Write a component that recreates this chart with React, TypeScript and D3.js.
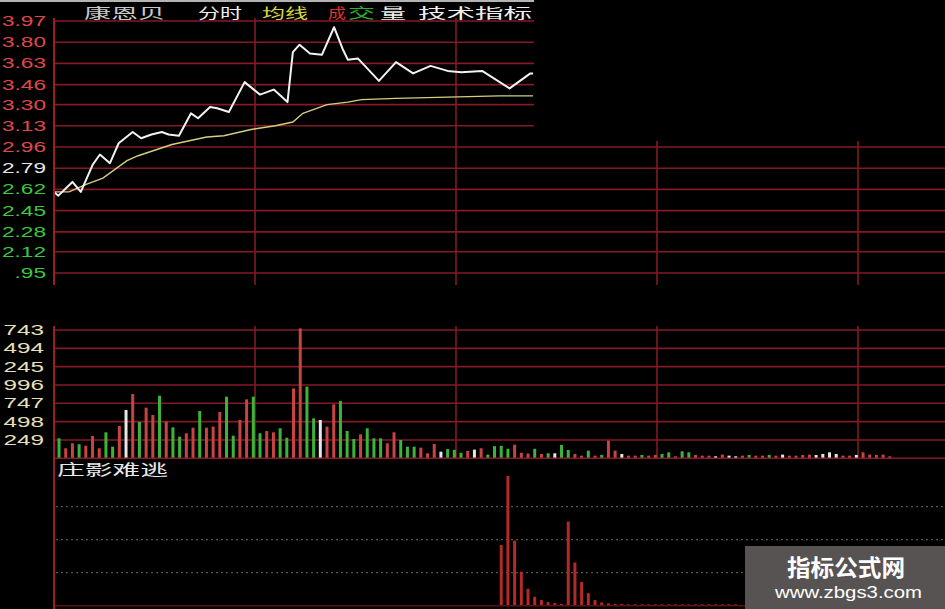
import * as d3 from 'd3';

// price axis (left labels are cut by the window edge in the original)
const priceTicks = [13.97, 13.8, 13.63, 13.46, 13.3, 13.13, 12.96, 12.79, 12.62, 12.45, 12.28, 12.12, 11.95];
const priceTickLabels = ['3.97', '3.80', '3.63', '3.46', '3.30', '3.13', '2.96', '2.79', '2.62', '2.45', '2.28', '2.12', '.95'];
const volumeTicks = [1743, 1494, 1245, 996, 747, 498, 249];
const volumeTickLabels = ['743', '494', '245', '996', '747', '498', '249'];
const hourMarks = [60, 120, 180, 240];

// minute line (minute, price) turning points
const priceMinutes = [0, 1.3, 5.5, 8, 11.6, 13.7, 16.7, 19.3, 23.5, 26, 29.1, 32.2, 34.2, 37.3, 40.9, 43, 46.6, 48.7, 52.2, 56.9, 61.5, 65.6, 69.7, 71.3, 73.3, 76.4, 80, 83.6, 86.1, 87.7, 90.7, 97, 102.1, 107.2, 112.4, 117.5, 121.6, 127.8, 136, 142.2, 143];
const prices = [12.6, 12.57, 12.68, 12.6, 12.82, 12.9, 12.83, 12.99, 13.08, 13.03, 13.06, 13.08, 13.06, 13.05, 13.23, 13.19, 13.28, 13.27, 13.24, 13.48, 13.38, 13.42, 13.32, 13.72, 13.78, 13.71, 13.7, 13.92, 13.75, 13.66, 13.67, 13.49, 13.64, 13.55, 13.61, 13.57, 13.56, 13.57, 13.43, 13.55, 13.55];

// average line
const avgMinutes = [0, 4.5, 9.6, 14.6, 21.8, 25.1, 35.2, 45.6, 50.7, 58.8, 66.1, 71.3, 74.3, 81.5, 87.7, 91.8, 102.1, 117.5, 132.8, 143];
const avgPrices = [12.6, 12.6, 12.66, 12.71, 12.85, 12.89, 12.98, 13.04, 13.05, 13.1, 13.13, 13.16, 13.23, 13.3, 13.32, 13.34, 13.35, 13.36, 13.37, 13.37];

// volume per 2-minute bar, with its colour (r up, g down, w flat)
const volumes = [
  272, 136, 204, 190, 171, 303, 136, 353, 158, 439, 656, 873, 493, 688, 588, 850, 498, 421, 294, 340,
  416, 643, 416, 430, 629, 837, 307, 520, 801, 837, 340, 371, 353, 408, 280, 949, 1765, 973, 543, 520,
  430, 733, 778, 371, 262, 326, 408, 272, 272, 204, 353, 249, 158, 158, 145, 68, 195, 90, 125, 115,
  75, 100, 118, 136, 50, 165, 170, 129, 185, 75, 65, 129, 59, 68, 68, 181, 113, 59, 36, 104,
  36, 45, 240, 104, 59, 36, 36, 45, 36, 45, 59, 81, 27, 95, 81, 45, 36, 36, 27, 50,
  36, 27, 36, 45, 36, 36, 45, 36, 50, 36, 36, 45, 50, 45, 59, 81, 59, 36, 36, 45,
  81, 50, 45, 50, 27,
];
const volumeDirs = [
  'g', 'r', 'r', 'g', 'r', 'r', 'r', 'g', 'g', 'r', 'w', 'r', 'g', 'r', 'r', 'g', 'r', 'g', 'g', 'r',
  'r', 'g', 'r', 'r', 'r', 'g', 'g', 'r', 'r', 'g', 'g', 'r', 'r', 'g', 'g', 'r', 'r', 'g', 'g', 'w',
  'r', 'r', 'g', 'g', 'g', 'r', 'g', 'g', 'g', 'r', 'r', 'g', 'g', 'g', 'r', 'r', 'r', 'w', 'g', 'g',
  'g', 'r', 'w', 'r', 'g', 'g', 'g', 'g', 'r', 'r', 'r', 'g', 'r', 'g', 'w', 'g', 'g', 'r', 'r', 'g',
  'r', 'g', 'r', 'r', 'w', 'r', 'r', 'g', 'r', 'r', 'g', 'g', 'r', 'g', 'g', 'r', 'r', 'r', 'w', 'r',
  'w', 'w', 'r', 'g', 'r', 'r', 'g', 'r', 'w', 'r', 'r', 'r', 'r', 'w', 'w', 'w', 'w', 'r', 'r', 'w',
  'r', 'r', 'r', 'r', 'r',
];

// 庄影难逃 indicator, starting at bar 66
const signalFirstBar = 66;
const signals = [
  1.84, 3.93, 1.97, 1.03, 0.51, 0.27, 0.17, 0.11, 0.08, 0.05, 2.55, 1.31, 0.72, 0.38, 0.17, 0.1, 0.07, 0.05,
  0.05, 0.04, 0.04, 0.04, 0.04, 0.04, 0.04, 0.04, 0.04, 0.04, 0.04, 0.04, 0.04, 0.04, 0.04, 0.04, 0.04, 0.04,
];

const W = 945;
const H = 609;
const gridColor = '#841a24';
const barColor: Record<string, string> = { r: '#c84444', g: '#3cb43c', w: '#e6e6e6' };
const priceLabelColor = (i: number) => (i < 7 ? '#e04848' : i === 7 ? '#e8e8e8' : '#3cc83c');

export default function App() {
  const x = d3.scaleLinear().domain([0, 240]).range([54, 858]);
  const barX = (i: number) => x(2 * i + 1.5);

  const yPrice = d3.scaleLinear().domain([11.95, 13.97]).range([273, 21]);
  const yVol = d3.scaleLinear().domain([0, 1743]).range([458.3, 330]);
  const ySig = d3.scaleLinear().domain([0, 4]).range([605.7, 473.7]);

  const line = d3
    .line<number>()
    .x((_, i) => x(priceMinutes[i]))
    .y((d) => yPrice(d));
  const avgLine = d3
    .line<number>()
    .x((_, i) => x(avgMinutes[i]))
    .y((d) => yPrice(d));

  const labelLen = (s: string) => s.split('').reduce((a, c) => a + (c === '.' ? 6.5 : 12.5), 0);
  const cjk = '"Noto Sans CJK SC", sans-serif';
  const num = '"Liberation Sans", Arial, sans-serif';

  return (
    <svg
      width={W}
      height={H}
      style={{ position: 'fixed', left: 0, top: 0, background: '#000', display: 'block' }}
    >
      <rect x={0} y={0} width={W} height={H} fill="#000" />

      {/* price panel grid */}
      {priceTicks.map((p) => (
        <line key={p} x1={54} x2={W} y1={yPrice(p)} y2={yPrice(p)} stroke={gridColor} strokeWidth={1.6} />
      ))}
      {hourMarks.map((m) => (
        <line key={m} x1={x(m)} x2={x(m)} y1={18} y2={285} stroke={gridColor} strokeWidth={1.6} />
      ))}
      {priceTicks.map((p, i) => {
        const s = priceTickLabels[i];
        const len = labelLen(s);
        return (
          <text
            key={'pl' + p}
            x={46 - len}
            y={yPrice(p) + 5}
            fontFamily={num}
            fontSize={14}
            fill={priceLabelColor(i)}
            textLength={len}
            lengthAdjust="spacingAndGlyphs"
          >
            {s}
          </text>
        );
      })}

      <path d={avgLine(avgPrices) ?? ''} fill="none" stroke="#d4cf7e" strokeWidth={1.4} />
      <path d={line(prices) ?? ''} fill="none" stroke="#f2f2f2" strokeWidth={2} strokeLinejoin="round" />

      {/* volume panel */}
      {volumeTicks.map((v) => (
        <line key={'vg' + v} x1={54} x2={W} y1={yVol(v)} y2={yVol(v)} stroke={gridColor} strokeWidth={1.6} />
      ))}
      {hourMarks.map((m) => (
        <line key={'vv' + m} x1={x(m)} x2={x(m)} y1={326} y2={458} stroke={gridColor} strokeWidth={1.6} />
      ))}
      {volumeTicks.map((v, i) => {
        const s = volumeTickLabels[i];
        const len = s.length * 13.5;
        return (
          <text
            key={'vl' + v}
            x={44 - len}
            y={yVol(v) + 5}
            fontFamily={num}
            fontSize={14}
            fill="#e8e0b8"
            textLength={len}
            lengthAdjust="spacingAndGlyphs"
          >
            {s}
          </text>
        );
      })}
      {volumes.map((v, i) => (
        <rect
          key={'vb' + i}
          x={barX(i) - 1.5}
          y={yVol(v)}
          width={3}
          height={yVol(0) - yVol(v)}
          fill={barColor[volumeDirs[i]]}
        />
      ))}
      <line x1={54} x2={W} y1={yVol(0)} y2={yVol(0)} stroke={gridColor} strokeWidth={1.6} />

      {/* indicator panel */}
      {[1, 2, 3].map((t) => (
        <line
          key={'sg' + t}
          x1={56}
          x2={W}
          y1={ySig(t)}
          y2={ySig(t)}
          stroke="#6a6a6a"
          strokeWidth={1}
          strokeDasharray="2,3"
        />
      ))}
      {signals.map((v, i) => (
        <rect
          key={'sb' + i}
          x={barX(signalFirstBar + i) - 1.5}
          y={ySig(v)}
          width={3}
          height={ySig(0) - ySig(v)}
          fill="#b42a2a"
        />
      ))}
      <line x1={54} x2={W} y1={ySig(0)} y2={ySig(0)} stroke="#5a1212" strokeWidth={1.5} />
      <text x={57} y={475} fontFamily={cjk} fontSize={15} fill="#e8e8e8" textLength={111} lengthAdjust="spacingAndGlyphs">
        庄影难逃
      </text>

      {/* left axis */}
      <line x1={54} x2={54} y1={18} y2={285} stroke="#a01c24" strokeWidth={2} />
      <line x1={54} x2={54} y1={326} y2={H} stroke="#a01c24" strokeWidth={2} />

      {/* cropped top-right corner of the screenshot */}
      <rect x={534} y={0} width={W - 534} height={141} fill="#000" />
      <rect x={0} y={0} width={534} height={2} fill="#b4b4b4" />

      {/* header */}
      <g fontFamily={cjk} fontSize={14}>
        <text x={84} y={18} fill="#c8c8c8" textLength={81} lengthAdjust="spacingAndGlyphs">康恩贝</text>
        <text x={198} y={18} fill="#eeeeee" textLength={44} lengthAdjust="spacingAndGlyphs">分时</text>
        <text x={262} y={18} fill="#d8d83c" textLength={46} lengthAdjust="spacingAndGlyphs">均线</text>
        <text x={328} y={18} fill="#e03030" textLength={18} lengthAdjust="spacingAndGlyphs">成</text>
        <text x={348} y={18} fill="#30b030" textLength={27} lengthAdjust="spacingAndGlyphs">交</text>
        <text x={380} y={18} fill="#eeeeee" textLength={26} lengthAdjust="spacingAndGlyphs">量</text>
        <text x={418} y={18} fill="#eeeeee" textLength={114} lengthAdjust="spacingAndGlyphs">技术指标</text>
      </g>

      {/* watermark */}
      <rect x={745} y={546} width={200} height={63} fill="#585353" />
      <text x={787} y={576} fontFamily={cjk} fontSize={23} fontWeight="bold" fill="#ffffff" textLength={118} lengthAdjust="spacingAndGlyphs">
        指标公式网
      </text>
      <text x={775} y={598} fontFamily={num} fontSize={16} fill="#ffffff" textLength={147} lengthAdjust="spacingAndGlyphs">
        www.zbgs3.com
      </text>
    </svg>
  );
}
